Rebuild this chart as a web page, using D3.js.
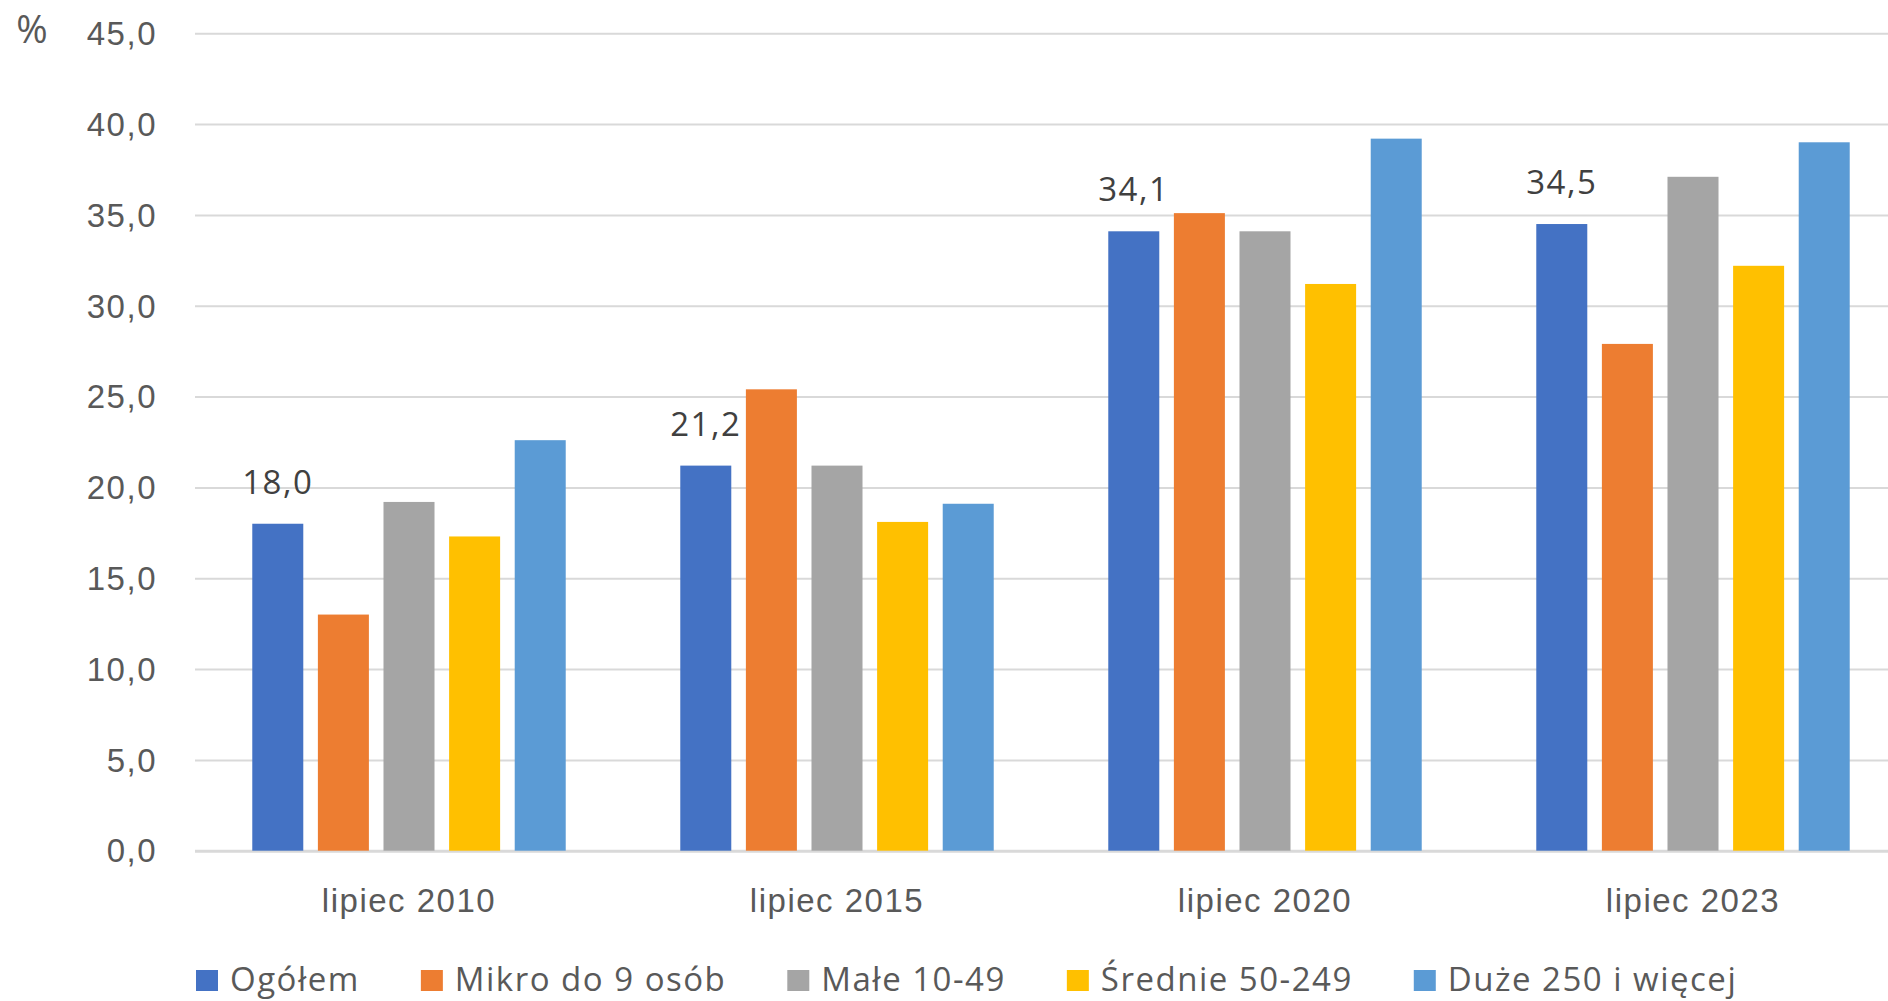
<!DOCTYPE html>
<html>
<head>
<meta charset="utf-8">
<script src="https://cdn.jsdelivr.net/npm/d3@7"></script>
<style>
  html, body { margin: 0; padding: 0; background: #fff; overflow: hidden; }
  svg { display: block; font-family: "Open Sans", "Noto Sans", sans-serif; }
</style>
</head>
<body>
<svg id="chart" width="1888" height="1001"></svg>
<script>
// ---- data ----
const categories = ["lipiec 2010", "lipiec 2015", "lipiec 2020", "lipiec 2023"];
const seriesNames = ["Ogółem", "Mikro do 9 osób", "Małe 10-49", "Średnie 50-249", "Duże 250 i więcej"];
const ogolem  = [18.0, 21.2, 34.1, 34.5];
const mikro   = [13.0, 25.4, 35.1, 27.9];
const male    = [19.2, 21.2, 34.1, 37.1];
const srednie = [17.3, 18.1, 31.2, 32.2];
const duze    = [22.6, 19.1, 39.2, 39.0];
const yTicks  = [0, 5, 10, 15, 20, 25, 30, 35, 40, 45];
const colors  = ["#4472C4", "#ED7D31", "#A5A5A5", "#FFC000", "#5B9BD5"];

const seriesValues = [ogolem, mikro, male, srednie, duze];
const labelledSeries = [true, false, false, false, false];

// ---- layout ----
const svg = d3.select("#chart");
const plotLeft = 195, plotRight = 1907, yTop = 33.3, yBottom = 850.7;
const fmt = v => d3.format(".1f")(v).replace(".", ",");

const x0 = d3.scaleBand().domain(categories).range([plotLeft, plotRight]).padding(0);
const x1 = d3.scaleBand().domain(seriesNames).range([0, x0.bandwidth()])
  .paddingInner(0.2226).paddingOuter(0.873);
const y = d3.scaleLinear().domain([0, 45]).range([yBottom, yTop]);

// gridlines
const yAxis = d3.axisLeft(y).tickValues(yTicks).tickSize(-(plotRight - plotLeft)).tickFormat(fmt).tickPadding(38);
const gy = svg.append("g").attr("transform", `translate(${plotLeft},0)`).call(yAxis);
gy.select(".domain").remove();
gy.selectAll(".tick line").attr("stroke", "#D9D9D9").attr("stroke-width", d => d === 0 ? 3 : 2);
gy.selectAll(".tick text").attr("fill", "#595959").attr("font-size", 33)
  .attr("letter-spacing", 1.5).attr("dy", "0.34em");

// % label
svg.append("text").attr("x", 32).attr("y", 29).attr("dy", "0.36em").attr("text-anchor", "middle")
  .attr("fill", "#595959").attr("font-size", 38).text("%");

// bars
const groups = svg.append("g").selectAll("g").data(categories).join("g")
  .attr("transform", d => `translate(${x0(d)},0)`);

seriesNames.forEach((s, si) => {
  groups.append("rect")
    .attr("x", x1(s))
    .attr("width", x1.bandwidth())
    .attr("y", (d, ci) => y(seriesValues[si][ci]))
    .attr("height", (d, ci) => y(0) - y(seriesValues[si][ci]))
    .attr("fill", colors[si]);
  if (labelledSeries[si]) {
    groups.append("text")
      .attr("x", x1(s) + x1.bandwidth() / 2)
      .attr("y", (d, ci) => y(seriesValues[si][ci]) - 30)
      .attr("text-anchor", "middle")
      .attr("fill", "#404040").attr("font-size", 33).attr("letter-spacing", 1.5)
      .text((d, ci) => fmt(seriesValues[si][ci]));
  }
});

// x axis labels
const xAxis = d3.axisBottom(x0).tickSize(0).tickPadding(0);
const gx = svg.append("g").attr("transform", `translate(0,${yBottom})`).call(xAxis);
gx.select(".domain").remove();
gx.selectAll(".tick text").attr("fill", "#595959").attr("font-size", 33)
  .attr("letter-spacing", 1.5).attr("dy", null).attr("y", 61);

// legend
const legend = svg.append("g");
let lx = 196;
const legendBaseline = 991;
seriesNames.forEach((s, i) => {
  legend.append("rect").attr("x", lx).attr("y", legendBaseline - 21).attr("width", 22).attr("height", 21)
    .attr("fill", colors[i]);
  const t = legend.append("text").attr("x", lx + 34).attr("y", legendBaseline)
    .attr("fill", "#595959").attr("font-size", 33).attr("letter-spacing", 1.5).text(s);
  lx = lx + 34 + t.node().getComputedTextLength() + 61;
});
</script>
</body>
</html>
